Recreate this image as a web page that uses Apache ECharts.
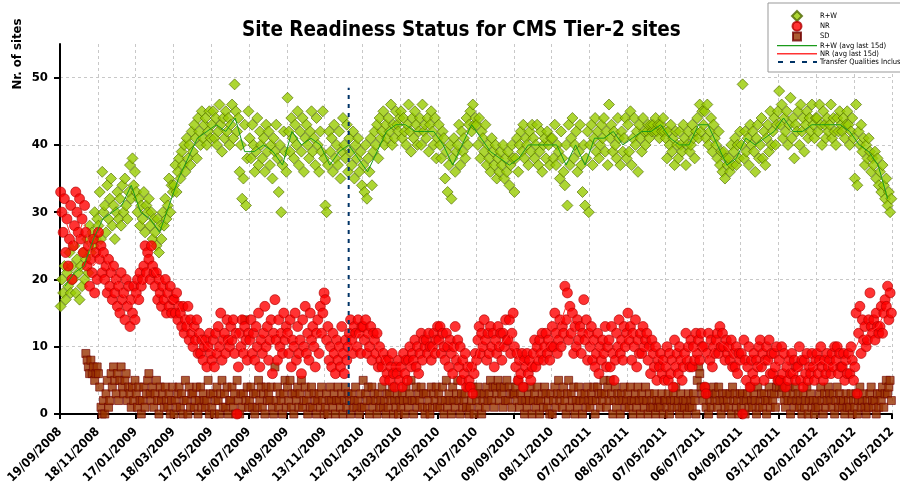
<!DOCTYPE html>
<html>
<head>
<meta charset="utf-8">
<title>Site Readiness Status for CMS Tier-2 sites</title>
<script src="https://cdn.jsdelivr.net/npm/echarts@6/dist/echarts.min.js"></script>
<style>
html,body{margin:0;padding:0;background:#fff;}
#main{width:900px;height:487px;}
</style>
</head>
<body>
<div id="main"></div>
<script>
// tick labels, one every 60 days starting 19/09/2008
var xLabels = ['19/09/2008','18/11/2008','17/01/2009','18/03/2009','17/05/2009','16/07/2009',
    '14/09/2009','13/11/2009','12/01/2010','13/03/2010','12/05/2010','11/07/2010','09/09/2010',
    '08/11/2010','07/01/2011','08/03/2011','07/05/2011','06/07/2011','04/09/2011','03/11/2011',
    '02/01/2012','02/03/2012','01/05/2012'];
var yTicks = [0, 10, 20, 30, 40, 50];

// daily counts, sampled every 2 days (day 1, 3, 5 ...), one row = 60 days
var firstDay = 1, dayStep = 2;
var rwData = [
    16,20,18,22,17, 21,19,24,18,22, 20,25,18,23,21, 17,22,19,24,20, 23,26,21,28,24, 27,25,30,26,29,
    28,33,26,36,30, 31,27,34,29,32, 35,28,31,26,30, 33,29,32,28,34, 30,35,31,29,33, 37,32,38,34,36,
    33,30,32,28,31, 29,33,27,31,30, 32,28,30,26,29, 27,25,29,24,28, 26,30,28,32,29, 31,35,30,34,33,
    34,37,33,36,38, 35,39,37,40,36, 41,38,40,37,42, 39,43,41,38,44, 42,40,45,41,43, 44,40,42,45,41,
    43,45,41,44,40, 42,46,43,39,44, 41,45,42,44,40, 43,46,41,49,45, 42,44,36,40,32, 35,43,31,38,45,
    41,38,43,40,36, 39,44,37,42,40, 38,41,36,43,39, 42,37,40,35,41, 39,43,38,33,40, 30,37,42,39,36,
    47,42,39,44,41, 38,43,40,45,37, 42,39,44,36,41, 43,40,38,42,45, 39,41,37,44,40, 36,42,39,45,38,
    31,30,37,42,39, 41,36,43,38,40, 37,42,35,39,44, 40,38,43,36,41, 39,37,42,35,40, 38,41,36,39,34,
    37,33,40,32,38, 36,41,34,39,42, 40,43,38,44,41, 42,45,40,43,41, 44,42,46,40,43, 41,45,43,42,44,
    45,41,44,42,40, 43,46,42,39,44, 41,45,43,40,42, 44,40,46,42,43, 41,44,39,43,45, 42,40,44,38,41,
    43,40,38,42,41, 35,39,33,37,40, 32,38,41,36,39, 40,43,37,42,39, 41,38,44,40,43, 45,42,46,43,44,
    43,40,44,38,42, 41,39,43,37,40, 38,36,41,39,37, 40,35,38,36,39, 37,40,35,38,36, 39,34,37,40,38,
    33,38,41,36,40, 42,39,43,38,41, 40,37,42,39,43, 41,38,40,43,37, 39,42,36,40,41, 38,42,40,37,41,
    41,38,43,37,40, 39,35,42,38,36, 34,40,31,43,37, 41,44,38,40,42, 36,39,43,37,33, 40,31,38,42,30,
    40,43,37,41,44, 39,42,38,40,43, 41,44,39,42,37, 46,41,43,39,42, 40,38,44,41,37, 42,39,41,44,38,
    43,39,45,37,41, 44,40,42,36,43, 41,39,44,42,40, 42,43,41,43,42, 43,42,44,42,43, 41,43,42,44,42,
    41,38,42,40,43, 39,41,37,42,40, 38,42,40,39,43, 41,37,40,42,39, 40,43,41,38,42, 44,41,46,42,45,
    43,45,41,46,40, 42,44,39,43,41, 40,38,42,37,39, 36,39,35,38,37, 38,36,40,37,39, 41,37,40,38,42,
    40,49,38,42,39, 41,37,43,40,42, 39,36,41,43,38, 40,44,38,42,37, 41,43,39,45,40, 42,44,40,43,45,
    48,43,46,41,44, 42,45,40,43,47, 41,44,38,43,42, 45,40,46,42,44, 39,43,45,41,44, 42,46,43,41,44,
    44,42,46,43,40, 45,43,41,44,42, 43,46,41,44,42, 40,44,42,45,43, 42,44,41,43,45, 43,40,42,44,41,
    35,46,34,42,40, 43,39,41,37,40, 38,41,39,36,38, 37,39,35,38,34, 36,33,37,34,32, 35,31,33,30,32
];
var nrData = [
    33,30,27,32,24, 29,22,26,31,20, 25,28,33,30,27, 32,26,29,24,31, 27,22,25,19,23, 21,26,18,24,20,
    27,23,25,21,24, 20,22,18,23,19, 21,17,22,18,20, 16,19,15,21,17, 18,14,20,16,19, 13,17,15,19,14,
    18,20,17,21,19, 20,22,25,21,24, 23,20,25,22,21, 19,21,17,20,18, 16,19,17,20,15, 18,16,19,15,17,
    17,15,18,14,16, 15,13,16,12,14, 13,16,11,14,12, 10,13,11,14,9, 12,9,11,8,10, 11,7,10,12,9,
    8,11,7,12,9, 13,10,15,8,11, 12,9,14,11,10, 13,11,14,9,12, 0,7,12,10,14, 9,13,11,8,12,
    11,14,9,12,8, 13,10,15,7,11, 9,12,16,10,13, 8,11,14,6,12, 17,11,8,14,10, 12,9,15,11,13,
    12,9,14,7,11, 10,15,8,13,9, 11,6,14,10,16, 9,12,8,15,11, 13,10,7,12,14, 9,16,12,15,18,
    17,11,13,8,10, 7,12,9,6,11, 8,10,7,13,9, 6,11,8,10,12, 14,11,9,13,12, 10,14,12,9,13,
    13,11,14,9,12, 10,13,8,12,11, 9,12,7,10,8, 7,9,5,8,6, 8,5,7,9,6, 4,7,6,8,5,
    7,4,9,6,8, 5,8,10,7,9, 8,11,7,10,6, 9,12,8,11,10, 11,9,12,10,8, 10,12,9,11,13,
    11,13,9,12,10, 8,12,10,7,11, 9,6,10,13,8, 11,7,10,5,8, 6,9,4,7,5, 4,7,3,6,9,
    8,11,13,9,12, 10,14,11,8,12, 9,13,10,12,7, 11,9,13,10,12, 8,12,10,14,11, 11,14,9,12,15,
    10,7,9,5,8, 6,9,4,8,7, 9,6,8,5,7, 9,11,7,10,8, 11,9,12,8,10, 12,9,11,8,10,
    13,10,15,12,9, 11,14,10,13,12, 19,14,18,11,16, 12,15,9,13,10, 14,11,13,9,12, 17,11,14,8,12,
    10,13,8,11,7, 9,12,6,10,8, 11,9,13,7,10, 11,7,13,9,5, 8,12,10,14,9, 11,8,13,10,12,
    15,11,13,8,12, 10,14,7,11,9, 12,9,13,10,11, 12,8,10,6,11, 9,7,10,5,8, 7,9,6,8,5,
    7,10,5,9,6, 8,4,11,7,9, 6,10,8,5,7, 9,12,8,10,7, 11,7,10,8,12, 9,11,8,12,10,
    10,4,3,9,12, 8,11,7,10,9, 11,12,9,13,10, 12,10,8,11,9, 10,8,11,7,9, 7,10,6,9,8,
    9,0,11,8,5, 7,10,4,8,6, 9,5,8,7,10, 11,7,9,5,8, 10,8,11,6,9, 6,9,7,10,5,
    8,5,10,6,9, 4,7,5,8,6, 9,6,8,5,7, 7,10,5,8,4, 8,6,9,5,7, 6,9,7,5,8,
    9,6,8,10,7, 5,8,6,9,7, 8,6,9,7,10, 8,10,6,9,7, 7,9,5,8,6, 9,6,10,8,5,
    7,15,3,12,16, 9,14,11,13,10, 11,14,18,13,12, 14,11,15,13,12, 13,16,12,15,17, 16,19,14,18,15
];
var sdData = [
    null,null,null,null,null, null,null,null,null,null, null,null,null,null,null, null,null,null,null,null, 9,8,7,6,8, 6,7,5,6,7,
    6,4,1,0,2, 0,3,5,1,2, 6,4,7,5,3, 6,2,5,7,4, 3,5,6,2,4, 3,1,4,2,5,
    3,1,4,2,0, 2,4,1,3,5, 6,3,2,4,1, 3,5,2,0,4, 2,3,1,4,2, 1,3,0,2,4,
    0,2,1,3,4, 1,3,0,2,5, 2,0,4,1,3, 3,1,2,4,0, 2,4,1,3,2, 1,2,5,0,3,
    1,3,0,2,4, 2,0,3,5,1, 3,1,4,0,2, 2,4,1,3,0, 5,2,0,3,1, 3,14,2,4,1,
    2,4,1,3,0, 3,1,5,2,4, 1,3,0,4,2, 3,2,4,1,0, 7,2,4,1,3, 2,0,3,5,1,
    4,2,5,1,3, 0,3,2,4,1, 3,5,1,2,4, 2,0,3,1,4, 1,3,2,0,2, 3,1,4,2,0,
    1,3,0,2,4, 2,1,3,0,2, 4,2,1,3,0, 2,4,1,3,2, 0,3,1,2,4, 1,2,0,3,1,
    5,1,3,2,4, 0,2,4,1,3, 2,0,3,1,2, 4,1,2,0,3, 1,3,2,4,0, 2,1,3,0,2,
    1,3,2,0,4, 2,1,3,5,2, 0,2,4,1,3, 2,4,1,3,0, 3,1,2,0,4, 1,3,2,4,1,
    3,1,2,4,0, 2,5,1,3,2, 0,4,2,1,3, 5,2,0,3,1, 2,3,1,4,0, 1,2,4,0,3,
    2,4,1,3,0, 2,3,1,4,2, 3,5,2,4,1, 4,3,5,2,4, 3,1,4,2,5, 2,4,3,1,3,
    3,4,2,5,1, 3,2,4,0,2, 1,3,2,4,0, 2,3,1,4,2, 0,2,3,1,4, 3,1,2,0,3,
    0,2,4,1,3, 5,2,3,1,4, 2,0,3,5,1, 3,2,4,0,2, 1,4,2,3,0, 2,3,1,4,2,
    1,3,2,4,0, 2,4,3,1,3, 2,5,3,1,4, 2,5,3,0,2, 4,1,3,2,0, 3,2,4,1,2,
    3,1,4,2,0, 2,3,1,4,2, 0,3,2,1,4, 2,0,3,1,2, 1,3,0,2,1, 2,1,3,0,2,
    2,1,3,0,2, 1,3,2,4,1, 2,0,3,1,2, 1,2,0,3,1, 2,1,3,2,0, 5,7,6,4,3,
    2,4,1,3,0, 2,1,3,4,2, 3,1,4,2,0, 3,2,1,3,2, 1,3,0,4,2, 3,1,2,0,3,
    1,3,2,0,2, 3,1,4,2,1, 3,2,0,4,1, 2,3,1,3,2, 0,2,4,1,3, 2,3,1,4,5,
    4,5,3,4,2, 1,3,2,4,0, 2,3,1,4,2, 3,1,2,0,3, 1,2,4,0,2, 3,1,2,0,1,
    2,1,3,4,2, 0,3,1,2,4, 3,2,1,3,0, 2,4,1,3,2, 1,2,0,3,1, 2,1,3,0,2,
    1,3,0,2,4, 1,2,3,1,0, 2,1,3,4,2, 1,2,0,3,1, 3,2,4,1,3, 5,3,4,5,2
];

// 15 day averages, one value every 15 days (day 8, 23, 38 ...)
var avgFirstDay = 8, avgStep = 15;
var rwAvg = [
    19,21,22,26, 29,30,31,34, 30,29,27,31, 35,38,41,42, 43,42,44,39, 39,40,39,37,
    42,40,41,40, 37,39,40,38, 36,39,42,43, 43,42,42,42, 40,37,40,43, 41,39,38,37,
    38,40,40,40, 40,37,40,37, 41,41,42,40, 41,42,42,43, 41,40,40,43, 43,40,37,38,
    41,40,41,42, 44,42,42,43, 43,43,43,42, 40,39,37,32
];
var nrAvg = [
    29,25,29,22, 24,21,18,16, 19,22,20,17, 16,13,12,10, 9,11,12,9, 11,11,12,12,
    11,11,11,12, 12,9,9,12, 12,10,7,7, 7,8,8,10, 11,10,8,6, 11,11,10,12,
    8,7,9,10, 12,16,12,12, 10,9,9,11, 12,10,9,8, 7,8,9,10, 8,11,10,8,
    7,7,8,7, 8,6,7,7, 8,7,8,8, 11,12,13,16
];

// day the transfer qualities entered the readiness (21/12/2009)
var transferDay = 458;
var transferRange = [0, 48.5];

var narrow = "'Liberation Sans Narrow', 'DejaVu Sans Condensed', sans-serif";

// legend icons: 40x10 box, small marks in the middle
var iconBox = 'M0,0L0,0M40,10L40,10';
var legendIcons = {
    'R+W': 'path://' + iconBox + 'M20,0L25,5L20,10L15,5Z',
    'NR': 'path://' + iconBox + 'M24.5,5A4.5,4.5,0,1,1,15.5,5A4.5,4.5,0,1,1,24.5,5Z',
    'SD': 'path://' + iconBox + 'M16,1H24V9H16Z',
    'R+W (avg last 15d)': 'path://' + iconBox + 'M0,4.3H40V5.7H0Z',
    'NR (avg last 15d)': 'path://' + iconBox + 'M0,4.3H40V5.7H0Z',
    'Transfer Qualities Inclusion': 'path://' + iconBox + 'M1,4H6V6H1ZM13,4H18V6H13ZM25,4H30V6H25ZM36,4H40V6H36Z'
};

function toPoints(arr, first, step){
    var pts = [];
    for(var i=0;i<arr.length;i++){
        if(arr[i] !== null){
            pts.push([first + i*step, arr[i]]);
        }
    }
    return pts;
}

var legendNames = ['R+W', 'NR', 'SD', 'R+W (avg last 15d)', 'NR (avg last 15d)', 'Transfer Qualities Inclusion'];
var legendData = [];
for(var n=0;n<legendNames.length;n++){
    legendData.push({name: legendNames[n], icon: legendIcons[legendNames[n]]});
}

var myChart = echarts.init(document.getElementById('main'), null, {renderer: 'canvas'});

var option = {
    animation: false,
    backgroundColor: '#fff',
    title: {
        text: 'Site Readiness Status for CMS Tier-2 sites',
        left: 237,
        top: 15,
        textStyle: {
            fontFamily: narrow,
            fontWeight: 'bold',
            fontSize: 20.5,
            color: '#000'
        }
    },
    graphic: [{
        type: 'text',
        x: 18,
        y: 54,
        rotation: Math.PI/2,
        style: {
            text: 'Nr. of sites',
            font: 'bold 13px ' + narrow,
            fill: '#000',
            align: 'center',
            verticalAlign: 'middle'
        }
    }],
    legend: {
        orient: 'vertical',
        left: 768,
        top: 3,
        padding: [7, 4, 5, 8],
        itemWidth: 40,
        itemHeight: 10,
        itemGap: -1.8,
        backgroundColor: '#fff',
        borderColor: '#999',
        borderWidth: 1,
        textStyle: {
            fontFamily: narrow,
            fontSize: 7.5,
            color: '#000',
            padding: [0, 0, 0, -2]
        },
        data: legendData
    },
    grid: {
        left: 60,
        right: 8,
        top: 44,
        bottom: 73
    },
    xAxis: {
        type: 'value',
        min: 0,
        max: 1320,
        interval: 60,
        axisLine: {lineStyle: {color: '#000', width: 2}},
        axisTick: {show: true, length: 5, lineStyle: {color: '#000', width: 2}},
        axisLabel: {
            rotate: 45,
            margin: 16,
            color: '#000',
            fontFamily: narrow,
            fontWeight: 'bold',
            fontSize: 12.5,
            formatter: function(v){
                return xLabels[Math.round(v/60)] || '';
            }
        },
        splitLine: {show: true, lineStyle: {color: '#c8c8c8', type: [3, 3], width: 1}}
    },
    yAxis: {
        type: 'value',
        min: 0,
        max: 55,
        interval: 10,
        axisLine: {show: true, lineStyle: {color: '#000', width: 2}},
        axisTick: {show: true, length: 6, customValues: yTicks, lineStyle: {color: '#000', width: 2}},
        axisLabel: {
            customValues: yTicks,
            margin: 12,
            color: '#000',
            fontFamily: narrow,
            fontWeight: 'bold',
            fontSize: 13
        },
        splitLine: {show: true, lineStyle: {color: '#c8c8c8', type: [3, 3], width: 1}}
    },
    series: [
        {
            name: 'SD',
            type: 'scatter',
            symbol: 'rect',
            symbolSize: 8,
            data: toPoints(sdData, firstDay, dayStep),
            itemStyle: {color: '#993300', borderColor: '#700000', borderWidth: 0.8}
        },
        {
            name: 'R+W',
            type: 'scatter',
            symbol: 'diamond',
            symbolSize: 11,
            data: toPoints(rwData, firstDay, dayStep),
            itemStyle: {color: '#99cc00', borderColor: '#4d6600', borderWidth: 0.8}
        },
        {
            name: 'NR',
            type: 'scatter',
            symbol: 'circle',
            symbolSize: 10,
            data: toPoints(nrData, firstDay, dayStep),
            itemStyle: {color: '#ff0000', borderColor: '#b00000', borderWidth: 0.8}
        },
        {
            name: 'R+W (avg last 15d)',
            type: 'line',
            symbol: 'none',
            data: toPoints(rwAvg, avgFirstDay, avgStep),
            itemStyle: {color: '#1a9a1a', borderWidth: 0},
            lineStyle: {color: '#1a9a1a', width: 1}
        },
        {
            name: 'NR (avg last 15d)',
            type: 'line',
            symbol: 'none',
            data: toPoints(nrAvg, avgFirstDay, avgStep),
            itemStyle: {color: '#ff3333', borderWidth: 0},
            lineStyle: {color: '#ff3333', width: 1}
        },
        {
            name: 'Transfer Qualities Inclusion',
            type: 'line',
            symbol: 'none',
            data: [[transferDay, transferRange[0]], [transferDay, transferRange[1]]],
            itemStyle: {color: '#003366', borderWidth: 0},
            lineStyle: {color: '#003366', width: 2, type: [4, 5]}
        }
    ]
};

myChart.setOption(option);
</script>
</body>
</html>
